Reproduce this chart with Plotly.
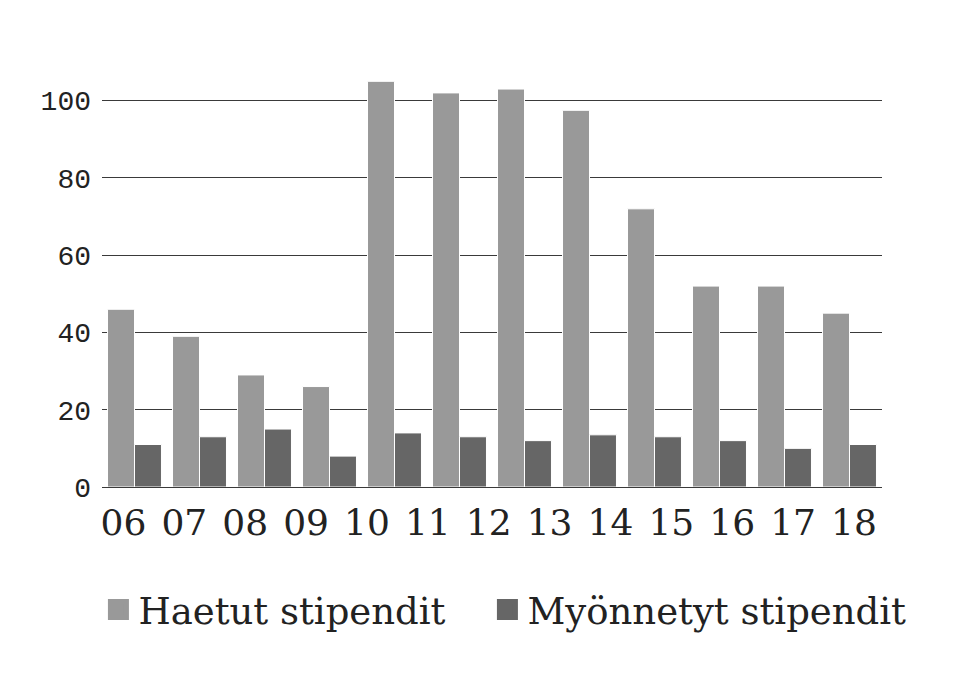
import plotly.graph_objects as go

groups = ["06", "07", "08", "09", "10", "11", "12", "13", "14", "15", "16", "17"]
haetut = [46, 39, 29, 26, 105, 102, 103, 97.5, 72, 52, 52, 45]
myonnetyt = [11, 13, 15, 8, 14, 13, 12, 13.5, 13, 12, 10, 11]
year_labels = ["06", "07", "08", "09", "10", "11", "12", "13", "14", "15", "16", "17", "18"]
series_names = ["Haetut stipendit", "Myönnetyt stipendit"]
series_colors = ["#999999", "#666666"]
legend_ids = ["legend", "legend2"]

serif = "DejaVu Serif"

fig = go.Figure()
for vals, name, col in zip([haetut, myonnetyt], series_names, series_colors):
    fig.add_trace(go.Bar(x=groups, y=vals, name=name, showlegend=False,
                         marker=dict(color=col, line=dict(color="#ffffff", width=1))))
# legend entries with large square swatches
for name, col, lg in zip(series_names, series_colors, legend_ids):
    fig.add_trace(go.Scatter(x=[None], y=[None], name=name, mode="markers",
                             legend=lg,
                             marker=dict(symbol="square", size=16, color=col,
                                         line=dict(color=col, width=5))))
# invisible trace to carry the year tick labels on an overlay axis
fig.add_trace(go.Scatter(x=year_labels, y=[0] * len(year_labels), xaxis="x2",
                         mode="markers", marker=dict(opacity=0), showlegend=False,
                         hoverinfo="skip"))

legend_style = dict(orientation="h", xref="container", xanchor="left",
                    yref="container", y=0.1275, yanchor="middle",
                    font=dict(family=serif, size=37, color="#222222"),
                    itemsizing="trace", itemwidth=30, bgcolor="rgba(0,0,0,0)")

fig.update_layout(
    width=960, height=690,
    margin=dict(l=94, r=86, t=54, b=211),
    paper_bgcolor="white", plot_bgcolor="white",
    barmode="group", bargap=0.17, bargroupgap=0,
    xaxis=dict(type="category", showticklabels=False, showgrid=False,
               showline=False, zeroline=False, ticks=""),
    xaxis2=dict(type="category", overlaying="x", side="bottom",
                range=[-0.353, 12.46], showgrid=False, showline=False,
                zeroline=False, ticks="", ticklabelstandoff=11,
                tickfont=dict(family=serif, size=36, color="#222222")),
    yaxis=dict(range=[0, 110], tickvals=[0, 20, 40, 60, 80, 100],
               showgrid=True, gridcolor="#3a3a3a", gridwidth=1,
               zeroline=True, zerolinecolor="#3a3a3a", zerolinewidth=1,
               ticks="", ticklabelstandoff=10,
               tickfont=dict(family="Liberation Mono", size=28, color="#222222")),
    legend=dict(x=0.0942, **legend_style),
    legend2=dict(x=0.4994, **legend_style),
    showlegend=True,
)

fig.write_html("out.html")
